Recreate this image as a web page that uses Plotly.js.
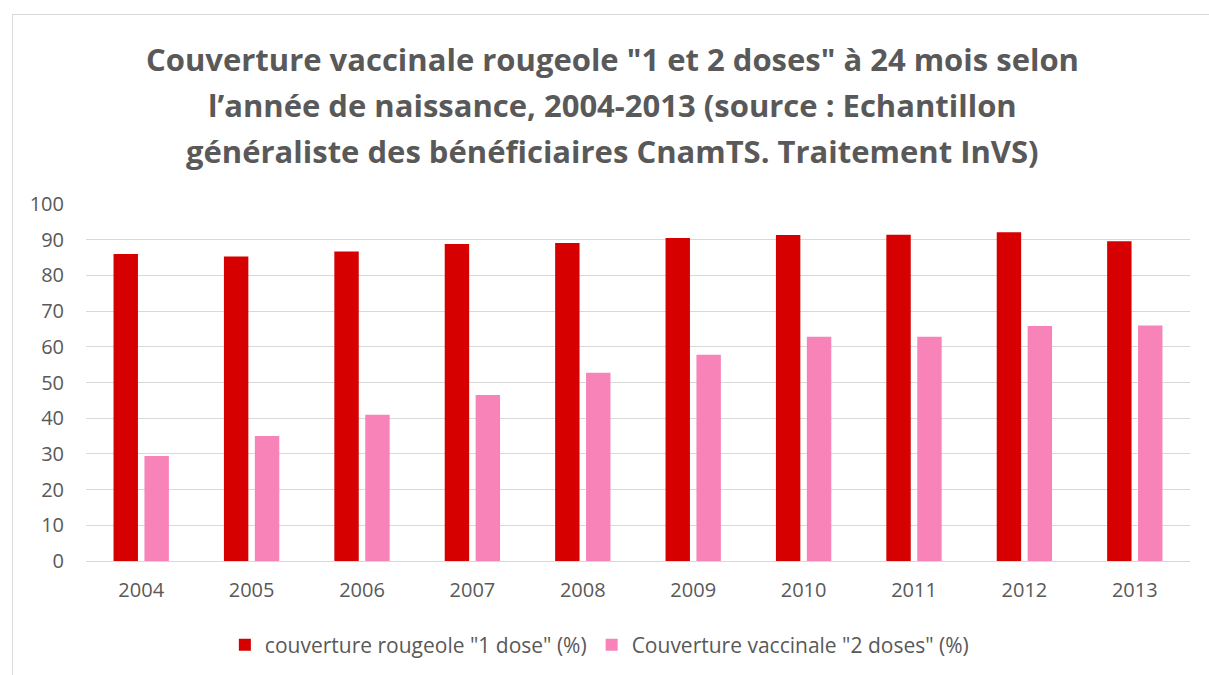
<!DOCTYPE html>
<html>
<head>
<meta charset="utf-8">
<script src="https://cdn.plot.ly/plotly-3.0.1.min.js"></script>
<style>
  html, body { margin: 0; padding: 0; background: #ffffff; }
  #chart { width: 1209px; height: 675px; position: absolute; left: 0; top: 0; }
  #frame { position: absolute; left: 12px; top: 14px; width: 1300px; height: 800px;
           border-left: 1px solid #d9d9d9; border-top: 1px solid #d9d9d9; pointer-events: none; }
</style>
</head>
<body>
<div id="chart"></div>
<div id="frame"></div>
<script>
const years = ["2004", "2005", "2006", "2007", "2008", "2009", "2010", "2011", "2012", "2013"];
const dose1 = [86.0, 85.3, 86.7, 88.8, 89.1, 90.5, 91.3, 91.4, 92.1, 89.6];
const dose2 = [29.4, 35.0, 41.0, 46.5, 52.7, 57.8, 62.8, 62.8, 65.8, 66.0];
const seriesNames = ['couverture rougeole "1 dose" (%)', 'Couverture vaccinale "2 doses" (%)'];
const titleLines = [
  'Couverture vaccinale rougeole "1 et 2 doses" à 24 mois selon',
  'l’année de naissance, 2004-2013 (source : Echantillon',
  'généraliste des bénéficiaires CnamTS. Traitement InVS)'
];
const yTicks = [0, 10, 20, 30, 40, 50, 60, 70, 80, 90, 100];

const gray = '#595959';
const fontFam = '"Open Sans", "Noto Sans", sans-serif';

const traces = [
  { type: 'bar', x: years, y: dose1, name: seriesNames[0],
    marker: { color: '#D60000' }, hoverinfo: 'x+y' },
  { type: 'bar', x: years, y: dose2, name: seriesNames[1],
    marker: { color: '#F783B8' }, hoverinfo: 'x+y' }
];

// plot area: x 86..1190, y 204..561
const plotTop = 204, plotBottom = 561;
const titleY = [59, 105, 151];
const annotations = titleLines.map((t, i) => ({
  text: '<b>' + t + '</b>',
  xref: 'paper', yref: 'paper',
  x: 0.5 - (638 - 612) / 1104, xanchor: 'center',
  y: (plotBottom - titleY[i]) / (plotBottom - plotTop), yanchor: 'middle',
  showarrow: false,
  font: { family: fontFam, size: 31, color: gray }
}));

const layout = {
  width: 1209, height: 675,
  margin: { l: 86, r: 19, t: 204, b: 114 },
  paper_bgcolor: 'rgba(0,0,0,0)',
  plot_bgcolor: '#ffffff',
  barmode: 'group',
  bargap: 0.44,
  bargroupgap: 0.21,
  showlegend: true,
  legend: {
    orientation: 'h', x: 0.465, xanchor: 'center',
    yref: 'container', y: 1 - 645 / 675, yanchor: 'middle',
    font: { family: fontFam, size: 21, color: gray },
    traceorder: 'normal'
  },
  xaxis: {
    type: 'category', automargin: false,
    tickfont: { family: fontFam, size: 20, color: gray },
    showline: true, linecolor: '#d9d9d9', linewidth: 1,
    ticks: '', ticklabelstandoff: 11,
    showgrid: false
  },
  yaxis: {
    range: [0, 100], automargin: false,
    tickvals: yTicks,
    ticktext: yTicks.map(String),
    tickfont: { family: fontFam, size: 20, color: gray },
    showgrid: true, gridcolor: '#d9d9d9', gridwidth: 1,
    zeroline: false, showline: false, ticks: '', ticklabelstandoff: 21
  },
  annotations: annotations
};

Plotly.newPlot('chart', traces, layout, { displayModeBar: false, staticPlot: true });
</script>
</body>
</html>
